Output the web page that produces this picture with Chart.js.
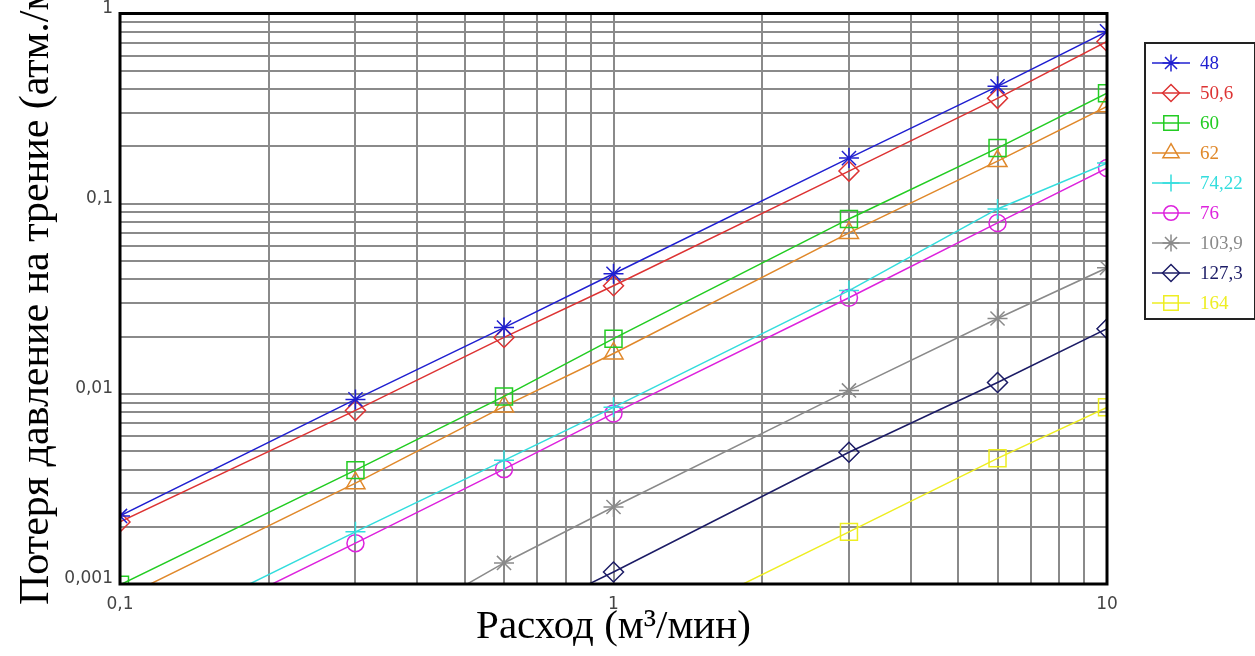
<!DOCTYPE html>
<html>
<head>
<meta charset="utf-8">
<script src="https://cdn.jsdelivr.net/npm/chart.js@4"></script>
<style>
html, body { margin: 0; padding: 0; background: #fff; }
#wrap { width: 1255px; height: 656px; position: relative; }
</style>
</head>
<body>
<div id="wrap"><canvas id="chart"></canvas></div>
<script>
// flow rate (m3/min) where the markers sit
const flowRates = [0.1, 0.3, 0.6, 1, 3, 6, 10];

// friction loss per series
// (values under 0,001 are below the plot and only give the clipped line start)
const loss48  = [0.00228, 0.00935, 0.0223, 0.0428, 0.1736, 0.414, 0.805];
const loss506 = [0.00212, 0.00818, 0.0198, 0.0370, 0.1484, 0.358, 0.713];
const loss60  = [0.00099, 0.00397, 0.00969, 0.0195, 0.0831, 0.196, 0.381];
const loss62  = [0.000835, 0.00339, 0.00859, 0.0163, 0.0702, 0.1674, 0.325];
const loss7422 = [0.000462, 0.00188, 0.00447, 0.00849, 0.0349, 0.0938, 0.1634];
const loss76  = [0.000405, 0.00164, 0.00402, 0.00789, 0.0320, 0.0792, 0.1539];
const loss1039 = [0.000132, 0.000462, 0.00129, 0.00254, 0.01042, 0.0249, 0.0460];
const loss1273 = [0.0000615, 0.00025, 0.000603, 0.001157, 0.00493, 0.01147, 0.0220];
const loss164 = [0.0000246, 0.0001, 0.000241, 0.000462, 0.00188, 0.00458, 0.00849];

const seriesNames = ['48', '50,6', '60', '62', '74,22', '76', '103,9', '127,3', '164'];
const seriesValues = [loss48, loss506, loss60, loss62, loss7422, loss76, loss1039, loss1273, loss164];
const seriesColors = ['#2020d0', '#dd3333', '#22cc22', '#e0882a', '#33dddd', '#dd22dd', '#8a8a8a', '#1c1c66', '#eeee22'];
const seriesMarkers = ['star', 'rectRot', 'rect', 'triangle', 'cross', 'circle', 'star', 'rectRot', 'rect'];
const markerSizes = [10, 10, 12, 11, 10, 8.5, 10, 10, 12];

const xTickValues = [0.1, 1, 10];
const xTickLabels = ['0,1', '1', '10'];
const yTickValues = [0.001, 0.01, 0.1, 1];
const yTickLabels = ['0,001', '0,01', '0,1', '1'];

const xTitle = 'Расход (м³/мин)';
const yTitle = 'Потеря давление на трение (атм./м)';

// grid lines at 1..9 of every decade
function logGrid(decades) {
  const out = [];
  for (let i = 0; i < decades.length - 1; i++) {
    for (let m = 1; m < 10; m++) out.push(+(decades[i] * m).toPrecision(6));
  }
  out.push(decades[decades.length - 1]);
  return out.map(v => ({ value: v }));
}

function labelFor(values, labels) {
  return value => {
    const i = values.findIndex(v => Math.abs(v - value) < v * 1e-6);
    return i >= 0 ? labels[i] : '';
  };
}

const datasets = seriesNames.map((name, i) => ({
  label: name,
  data: flowRates.map((x, j) => ({ x: x, y: seriesValues[i][j] })),
  borderColor: seriesColors[i],
  borderWidth: 1.5,
  pointStyle: seriesMarkers[i],
  pointRadius: markerSizes[i],
  pointBorderColor: seriesColors[i],
  pointBackgroundColor: 'rgba(0,0,0,0)',
  pointBorderWidth: 1.5,
  tension: 0
}));

// frame, rotated y title and the boxed legend
const decorations = {
  id: 'decorations',
  afterDraw(chart) {
    const { ctx, chartArea: a } = chart;
    ctx.save();
    ctx.strokeStyle = '#000';
    ctx.lineWidth = 3;
    ctx.strokeRect(a.left, a.top, a.right - a.left, a.bottom - a.top);
    ctx.restore();

    ctx.save();
    ctx.translate(37, 605);
    ctx.rotate(-Math.PI / 2);
    ctx.font = '42px "Liberation Serif"';
    ctx.fillStyle = '#000';
    ctx.textBaseline = 'middle';
    ctx.textAlign = 'left';
    ctx.fillText(yTitle, 0, 0);
    ctx.restore();

    ctx.save();
    ctx.strokeStyle = '#222';
    ctx.lineWidth = 2;
    ctx.strokeRect(1145, 43, 110, 276);
    ctx.font = '19px "Liberation Serif"';
    ctx.textBaseline = 'middle';
    seriesNames.forEach((name, i) => {
      const y = 63 + i * 30;
      ctx.strokeStyle = seriesColors[i];
      ctx.fillStyle = 'rgba(0,0,0,0)';
      ctx.lineWidth = 1.5;
      ctx.beginPath();
      ctx.moveTo(1152, y);
      ctx.lineTo(1190, y);
      ctx.stroke();
      Chart.helpers.drawPoint(ctx, { pointStyle: seriesMarkers[i], radius: markerSizes[i] * 0.85, borderWidth: 1.5, rotation: 0 }, 1171, y);
      ctx.fillStyle = seriesColors[i];
      ctx.fillText(name, 1200, y + 1);
    });
    ctx.restore();
  }
};

new Chart(document.getElementById('chart'), {
  type: 'line',
  data: { datasets: datasets },
  options: {
    responsive: true,
    maintainAspectRatio: false,
    animation: false,
    layout: { padding: { left: 0, top: 12, right: 148, bottom: 0 } },
    plugins: { legend: { display: false }, tooltip: { enabled: false } },
    scales: {
      x: {
        type: 'logarithmic',
        min: 0.1,
        max: 10,
        afterBuildTicks: s => { s.ticks = logGrid(xTickValues); },
        afterFit: s => { s.height = 72; s.paddingLeft = 0; s.paddingRight = 0; },
        border: { display: false },
        grid: { color: '#8a8a8a', lineWidth: 2, drawTicks: false },
        ticks: {
          autoSkip: false,
          maxRotation: 0,
          padding: 10,
          color: '#444',
          font: { family: '"DejaVu Sans"', size: 17 },
          callback: labelFor(xTickValues, xTickLabels)
        },
        title: {
          display: true,
          text: xTitle,
          color: '#000',
          font: { family: '"Liberation Serif"', size: 41 },
          padding: { top: 0, bottom: 4 }
        }
      },
      y: {
        type: 'logarithmic',
        min: 0.001,
        max: 1,
        afterBuildTicks: s => { s.ticks = logGrid(yTickValues); },
        afterFit: s => { s.width = 120; s.paddingTop = 0; s.paddingBottom = 0; },
        border: { display: false },
        grid: { color: '#8a8a8a', lineWidth: 2, drawTicks: false },
        ticks: {
          autoSkip: false,
          padding: 7,
          labelOffset: -5,
          color: '#444',
          font: { family: '"DejaVu Sans"', size: 17 },
          callback: labelFor(yTickValues, yTickLabels)
        }
      }
    }
  },
  plugins: [decorations]
});
</script>
</body>
</html>
